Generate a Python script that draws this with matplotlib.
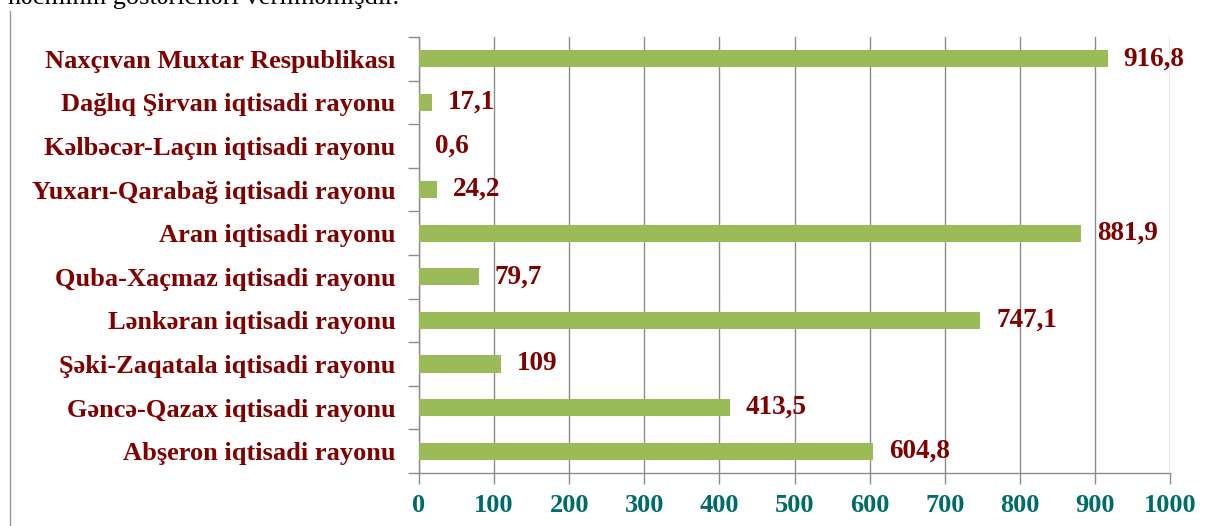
import matplotlib.pyplot as plt
from matplotlib.lines import Line2D

# regions listed bottom to top, as drawn
regions = [
    "Abşeron iqtisadi rayonu",
    "Gəncə-Qazax iqtisadi rayonu",
    "Şəki-Zaqatala iqtisadi rayonu",
    "Lənkəran iqtisadi rayonu",
    "Quba-Xaçmaz iqtisadi rayonu",
    "Aran iqtisadi rayonu",
    "Yuxarı-Qarabağ iqtisadi rayonu",
    "Kəlbəcər-Laçın iqtisadi rayonu",
    "Dağlıq Şirvan iqtisadi rayonu",
    "Naxçıvan Muxtar Respublikası",
]
values = [604.8, 413.5, 109, 747.1, 79.7, 881.9, 24.2, 0.6, 17.1, 916.8]
value_labels = ["604,8", "413,5", "109", "747,1", "79,7", "881,9", "24,2", "0,6", "17,1", "916,8"]
xticks = [0, 100, 200, 300, 400, 500, 600, 700, 800, 900, 1000]

plt.rcParams['font.family'] = ['Liberation Serif', 'DejaVu Serif']

fig = plt.figure(figsize=(12.16, 5.26), dpi=100)
ax = fig.add_axes([419 / 1216, 1 - 473 / 526, 751 / 1216, 436 / 526])

pos = list(range(len(regions)))
ax.barh(pos, values, height=0.39, color="#9BBB59", zorder=3)

for p, v, lab in zip(pos, values, value_labels):
    ax.annotate(lab, (v, p), xytext=(11.5, 0), textcoords="offset points",
                ha="left", va="center", fontsize=19.5, fontweight="bold",
                color="#800000", zorder=4)

ax.set_xlim(0, 1000)
ax.set_ylim(-0.5, len(regions) - 0.5)

ax.set_xticks(xticks)
ax.set_xticklabels([str(t) for t in xticks], fontsize=19, fontweight="bold",
                   color="#006B6B")
ax.tick_params(axis="x", length=8, width=1, color="#8C8C8C", pad=7)
ax.grid(axis="x", color="#8C8C8C", linewidth=1, zorder=0)

# category boundaries as major ticks, names on minor ticks
ax.set_yticks([p - 0.5 for p in range(len(regions) + 1)])
ax.set_yticklabels([])
ax.set_yticks(pos, minor=True)
ax.set_yticklabels(regions, minor=True, fontsize=19, fontweight="bold",
                   color="#800000")
ax.tick_params(axis="y", which="major", length=8, width=1, color="#8C8C8C")
ax.tick_params(axis="y", which="minor", length=0, pad=17)

for s in ["top", "right"]:
    ax.spines[s].set_visible(False)
for s in ["left", "bottom"]:
    ax.spines[s].set_color("#8C8C8C")
    ax.spines[s].set_linewidth(1)

# page margin line and cut-off sentence above the chart
fig.add_artist(Line2D([10 / 1216, 10 / 1216], [0, 1 - 11 / 526],
                      transform=fig.transFigure, color="#999999", linewidth=1))
fig.text(8 / 1216, 1 - 4 / 526, "həcminin göstəriciləri verilməmişdir.",
         fontsize=19, va="baseline", ha="left", color="black")

fig.savefig("out.png", dpi=100)
